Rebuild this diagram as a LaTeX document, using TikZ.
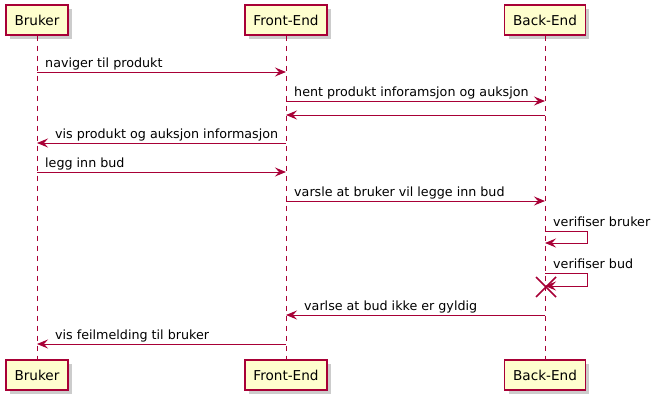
\documentclass[tikz,border=0pt]{standalone}
\usepackage{fontspec}
\setmainfont{DejaVu Sans}
\usetikzlibrary{arrows.meta,shadows}
\definecolor{pu}{HTML}{A80036}
\definecolor{pbox}{HTML}{FEFECE}
\tikzset{
  part/.style={draw=pu, line width=1.2pt, fill=pbox, minimum height=30pt, inner xsep=8.5pt, inner ysep=0pt,
    font=\fontsize{13.6pt}{16pt}\selectfont, text=black,
    drop shadow={shadow xshift=4pt, shadow yshift=-4pt, fill=black, opacity=0.2}},
  life/.style={draw=pu, line width=1pt, dash pattern=on 5pt off 5pt},
  msg/.style={draw=pu, line width=1pt, -{Stealth[length=11pt,width=9pt,inset=4pt]}},
  lbl/.style={anchor=base west, inner sep=0pt, font=\fontsize{12.7pt}{15pt}\selectfont, text=black},
  xmark/.style={draw=pu, line width=1.5pt}
}
\begin{document}
\begin{tikzpicture}[x=1pt,y=-1pt]
\useasboundingbox (0,0) rectangle (655,404);
% participants
\node[part] (b1) at (37,20) {Bruker};
\node[part] (f1) at (286,20) {Front-End};
\node[part] (k1) at (545,20) {Back-End};
\node[part] (b2) at (37,375) {Bruker};
\node[part] (f2) at (286,375) {Front-End};
\node[part] (k2) at (545,375) {Back-End};
% lifelines
\draw[life] (b1.south) -- (b2.north);
\draw[life] (f1.south) -- (f2.north);
\draw[life] (k1.south) -- (k2.north);
% message anchor points
\foreach \y/\n in {72/1,101/2,115/3,143/4,172/5,201/6,231.5/7,243/7b,273/8,286/8b,315/9,344/10}{
  \coordinate (B\n) at (37,\y);
  \coordinate (F\n) at (286,\y);
  \coordinate (K\n) at (545,\y);
  \coordinate (S\n) at (587,\y);
}
% messages
\draw[msg] (B1) -- (F1);
\node[lbl] (t1) at (45,67) {naviger til produkt};
\draw[msg] (F2) -- (K2);
\node[lbl] (t2) at (294,96) {hent produkt inforamsjon og auksjon};
\draw[msg] (K3) -- (F3);
\draw[msg] (F4) -- (B4);
\node[lbl] (t4) at (55,138) {vis produkt og auksjon informasjon};
\draw[msg] (B5) -- (F5);
\node[lbl] (t5) at (45,167) {legg inn bud};
\draw[msg] (F6) -- (K6);
\node[lbl] (t6) at (294,196) {varsle at bruker vil legge inn bud};
\draw[msg] (K7) -- (S7) -- (S7b) -- (K7b);
\node[lbl] (t7) at (553,226) {verifiser bruker};
\draw[msg] (K8) -- (S8) -- (S8b) -- (K8b);
\node[lbl] (t8) at (553,268) {verifiser bud};
\coordinate (x1) at (536,277);
\coordinate (x2) at (556,297);
\coordinate (x3) at (536,297);
\coordinate (x4) at (556,277);
\draw[xmark] (x1) -- (x2);
\draw[xmark] (x3) -- (x4);
\draw[msg] (K9) -- (F9);
\node[lbl] (t9) at (304,310) {varlse at bud ikke er gyldig};
\draw[msg] (F10) -- (B10);
\node[lbl] (t10) at (55,339) {vis feilmelding til bruker};
\end{tikzpicture}
\end{document}
